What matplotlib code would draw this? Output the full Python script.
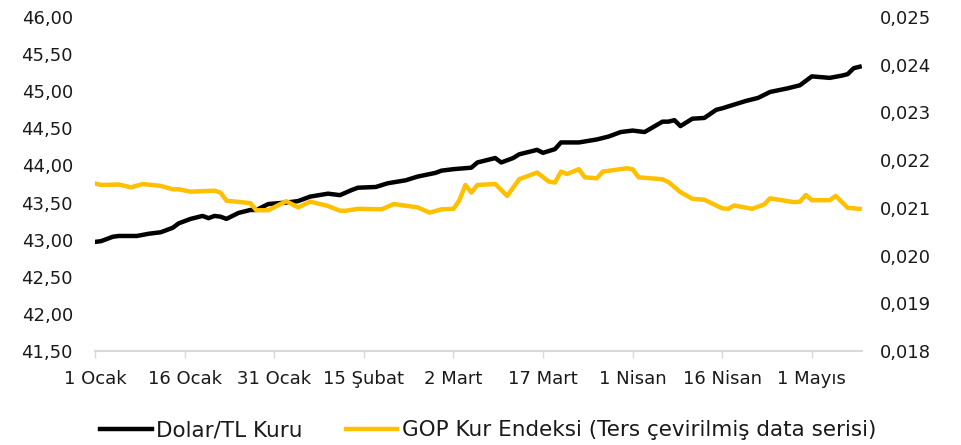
import numpy as np
import matplotlib
matplotlib.use("Agg")
import matplotlib.pyplot as plt
from matplotlib.ticker import FuncFormatter, MultipleLocator

plt.rcParams['font.family'] = ['DejaVu Sans']

# day offsets from 1 Ocak
usd_days = [0, 1, 3, 4, 7, 9, 11, 13, 14, 16, 18, 19, 20, 21, 22, 24, 26, 27, 29, 32,
            34, 36, 39, 41, 43, 44, 47, 49, 52, 54, 57, 58, 60, 63, 64, 67, 68, 70, 71, 74,
            75, 77, 78, 81, 84, 86, 88, 90, 92, 95, 96, 97, 98, 100, 102, 104, 105, 107, 109, 111,
            113, 116, 118, 120, 123, 125, 126, 127, 128]
usd_try = [42.97, 42.98, 43.04, 43.05, 43.05, 43.08, 43.10, 43.16, 43.22, 43.28, 43.32, 43.29, 43.32, 43.31, 43.28,
           43.36, 43.40, 43.40, 43.48, 43.50, 43.52, 43.58, 43.62, 43.60, 43.67, 43.70, 43.71, 43.76, 43.80, 43.85,
           43.90, 43.93, 43.95, 43.97, 44.04, 44.10, 44.04, 44.10, 44.15, 44.21, 44.17, 44.22, 44.31, 44.31, 44.35,
           44.39, 44.45, 44.47, 44.45, 44.59, 44.59, 44.61, 44.53, 44.63, 44.64, 44.75, 44.77, 44.82, 44.87, 44.91,
           44.99, 45.04, 45.08, 45.20, 45.18, 45.21, 45.23, 45.31, 45.33]

gop_days = [0, 1, 4, 6, 8, 11, 13, 14, 16, 20, 21, 22, 26, 27, 29, 32, 34, 36, 39, 41,
            42, 44, 48, 50, 54, 56, 58, 60, 61, 62, 63, 64, 67, 69, 71, 74, 76, 77, 78, 79,
            81, 82, 84, 85, 89, 90, 91, 95, 96, 98, 100, 102, 105, 106, 107, 110, 112, 113, 117, 118,
            119, 120, 123, 124, 126, 128]
gop_inv = [0.02151, 0.02148, 0.02149, 0.02143, 0.02150, 0.02146, 0.02139, 0.02139, 0.02134, 0.02136,
           0.02132, 0.02115, 0.02110, 0.02095, 0.02095, 0.02114, 0.02101, 0.02113, 0.02104, 0.02094,
           0.02094, 0.02098, 0.02097, 0.02108, 0.02101, 0.02090, 0.02097, 0.02098, 0.02116, 0.02148,
           0.02132, 0.02148, 0.02150, 0.02125, 0.02160, 0.02174, 0.02155, 0.02153, 0.02176, 0.02171,
           0.02181, 0.02164, 0.02162, 0.02176, 0.02183, 0.02181, 0.02164, 0.02160, 0.02154, 0.02133,
           0.02119, 0.02117, 0.02099, 0.02098, 0.02105, 0.02098, 0.02107, 0.02120, 0.02112, 0.02113,
           0.02127, 0.02116, 0.02116, 0.02125, 0.02100, 0.02098]

tick_days = [0, 15, 30, 45, 60, 75, 90, 105, 120]
tick_labels = ['1 Ocak', '16 Ocak', '31 Ocak', '15 Şubat', '2 Mart', '17 Mart', '1 Nisan', '16 Nisan', '1 Mayıs']

txt = '#1a1a1a'

fig = plt.figure(figsize=(9.61, 4.45), dpi=100)
ax = fig.add_axes([0.0989, 0.2112, 0.7981, 0.7506])
ax2 = ax.twinx()

l1, = ax.plot(usd_days, usd_try, color='black', lw=3.2, solid_joinstyle='round', zorder=3)
l2, = ax2.plot(gop_days, gop_inv, color='#FFC000', lw=3.2, solid_joinstyle='round', zorder=2)

ax.set_xlim(0, 128.4)
ax.set_ylim(41.5, 46.0)
ax2.set_ylim(0.018, 0.025)
ax.yaxis.set_major_locator(MultipleLocator(0.5))
ax2.yaxis.set_major_locator(MultipleLocator(0.001))
ax.yaxis.set_major_formatter(FuncFormatter(lambda v, p: f'{v:.2f}'.replace('.', ',')))
ax2.yaxis.set_major_formatter(FuncFormatter(lambda v, p: f'{v:.3f}'.replace('.', ',')))

ax.set_xticks(tick_days)
ax.set_xticklabels(tick_labels)

for a in (ax, ax2):
    for s in a.spines.values():
        s.set_visible(False)
ax.spines['bottom'].set_visible(True)
ax.spines['bottom'].set_color('#d9d9d9')
ax.spines['bottom'].set_linewidth(1.5)

ax.tick_params(axis='x', length=5, width=1, color='#d9d9d9', pad=9, labelsize=13, labelcolor=txt)
ax.tick_params(axis='y', length=0, pad=16, labelsize=13, labelcolor=txt)
ax2.tick_params(axis='y', length=0, pad=13, labelsize=13, labelcolor=txt)

fig.legend([l1, l2], ['Dolar/TL Kuru', 'GOP Kur Endeksi (Ters çevirilmiş data serisi)'],
           loc='center', bbox_to_anchor=(0.508, 0.033), ncol=2, frameon=False,
           fontsize=15.5, handlelength=2.4, handletextpad=0.2, columnspacing=2.0,
           labelcolor=txt)

fig.savefig('out.png', dpi=100)
